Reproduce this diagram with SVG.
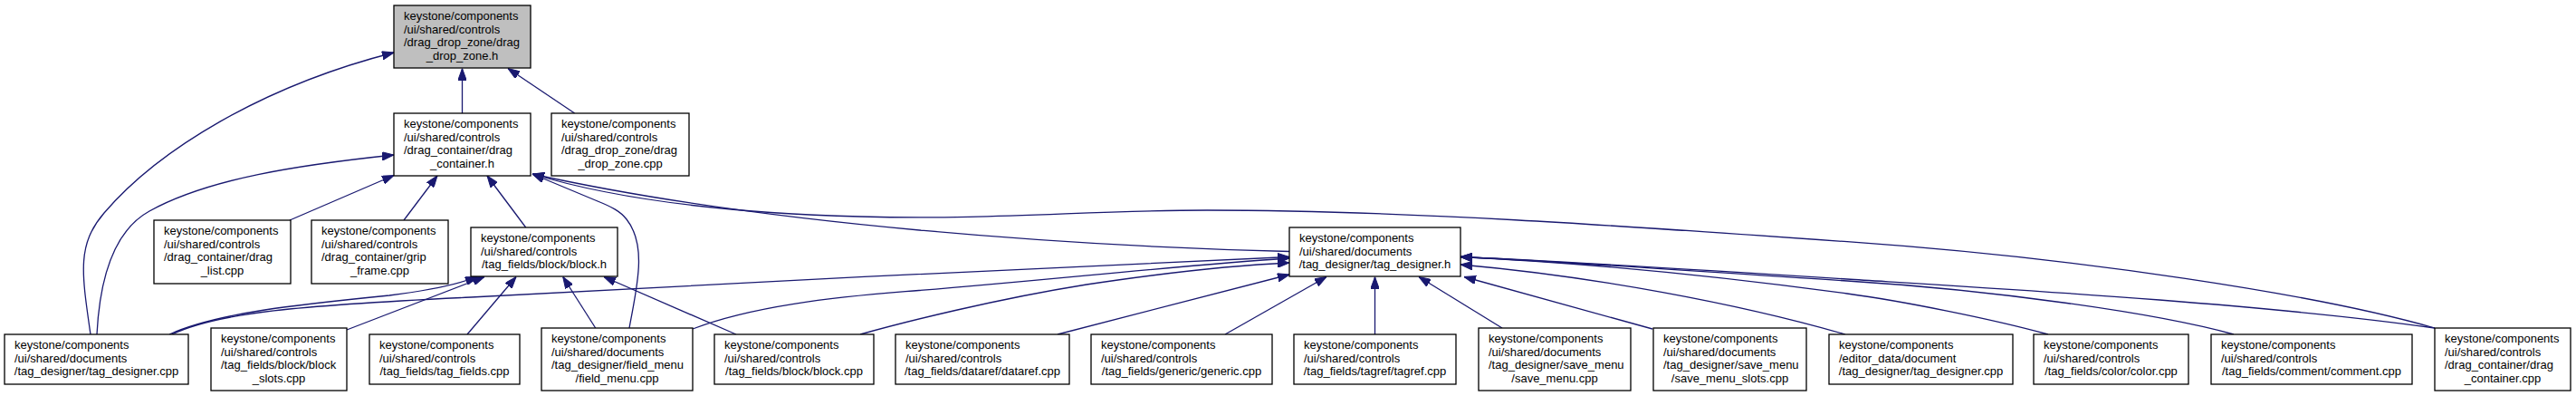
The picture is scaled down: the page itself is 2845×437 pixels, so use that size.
<svg xmlns="http://www.w3.org/2000/svg" width="2845" height="437" viewBox="0 0 2845 437">
<style>
.n rect{fill:#fff;stroke:#000;stroke-width:1.3}
#n1 rect{fill:#bfbfbf}
.n text{font-family:"Liberation Sans",Arial,sans-serif;font-size:13px;fill:#000}
.n text.c{text-anchor:middle}
.e path{fill:none;stroke:#191970;stroke-width:1.3;marker-end:url(#ah)}
</style>
<defs>
<marker id="ah" viewBox="0 0 13 9.4" refX="13" refY="4.7" markerWidth="13" markerHeight="9.4" markerUnits="userSpaceOnUse" orient="auto">
<path d="M0,0 L13,4.7 L0,9.4 Z" fill="#191970" stroke="#191970" stroke-width="1"/>
</marker>
</defs>
<rect width="2845" height="437" fill="#fff"/>
<g id="edges" class="e">
<path d="M510.5,125 L510.5,75.5"/>
<path d="M634.7,125 L561,75.5"/>
<path d="M100,369 C90,300 85,270 115,235 C175,165 290,95 435,58"/>
<path d="M107,369 C110,310 125,255 165,233 C230,197 330,182 435,171"/>
<path d="M320,243 L435,193.5"/>
<path d="M446,243 L483,194"/>
<path d="M580.7,251 L538,194"/>
<path d="M695,362 C702,322 716,272 692,242 C685,233 675,228 660,222 L588,192"/>
<path d="M1424,277.5 C1200,272 850,250 588,192"/>
<path d="M2689,362 C2560,325 2300,285 2040,266.7 C1800,249.8 1550,232 1333,232 C1200,232 1100,243 950,239 C800,235 680,220 588,192"/>
<path d="M187,369 C240,345 330,336 430,326 C470,321 505,314 527,305.5"/>
<path d="M383,364 L535,305.5"/>
<path d="M516,369 L570,305.5"/>
<path d="M657.7,362 L621.7,305.5"/>
<path d="M813,369 L667,305.5"/>
<path d="M190,369 C240,345 330,337 520,328 C800,313 1150,295 1424,283.5"/>
<path d="M765,363 C830,338 920,328 1000,321.7 C1150,310 1300,293 1424,285"/>
<path d="M950,369 C1000,355 1100,330 1200,314 C1300,299 1380,292 1424,290"/>
<path d="M1168,369 L1424,303"/>
<path d="M1353,369 L1465,305.5"/>
<path d="M1518.5,369 L1518.5,305.5"/>
<path d="M1659,362 L1567,305.5"/>
<path d="M1825,363 L1617,305.5"/>
<path d="M2038,369 C1920,335 1760,305 1613,292"/>
<path d="M2262,369 C2200,352 2100,332 2040,324 C1900,305 1750,290 1613,283.5"/>
<path d="M2467,369 C2380,345 2200,320 2040,310 C1880,300 1720,288 1613,283.5"/>
<path d="M2689,362 C2500,335 2200,318 2040,308 C1880,298 1720,288 1613,283.5"/>
</g>
<g id="n1" class="n"><rect x="435" y="6" width="151" height="69"/><text x="446" y="22">keystone/components</text><text x="446" y="36.7">/ui/shared/controls</text><text x="446" y="51.4">/drag_drop_zone/drag</text><text class="c" x="510.5" y="66.1">_drop_zone.h</text></g>
<g id="n2" class="n"><rect x="435" y="125" width="151" height="69"/><text x="446" y="141">keystone/components</text><text x="446" y="155.7">/ui/shared/controls</text><text x="446" y="170.4">/drag_container/drag</text><text class="c" x="510.5" y="185.1">_container.h</text></g>
<g id="n3" class="n"><rect x="609" y="125" width="152" height="69"/><text x="620" y="141">keystone/components</text><text x="620" y="155.7">/ui/shared/controls</text><text x="620" y="170.4">/drag_drop_zone/drag</text><text class="c" x="685" y="185.1">_drop_zone.cpp</text></g>
<g id="n4" class="n"><rect x="170" y="243" width="151" height="70"/><text x="181" y="259">keystone/components</text><text x="181" y="273.7">/ui/shared/controls</text><text x="181" y="288.4">/drag_container/drag</text><text class="c" x="245.5" y="303.1">_list.cpp</text></g>
<g id="n5" class="n"><rect x="344" y="243" width="151" height="70"/><text x="355" y="259">keystone/components</text><text x="355" y="273.7">/ui/shared/controls</text><text x="355" y="288.4">/drag_container/grip</text><text class="c" x="419.5" y="303.1">_frame.cpp</text></g>
<g id="n6" class="n"><rect x="520" y="251" width="162" height="54"/><text x="531" y="267">keystone/components</text><text x="531" y="281.7">/ui/shared/controls</text><text class="c" x="601" y="296.4">/tag_fields/block/block.h</text></g>
<g id="n7" class="n"><rect x="1424" y="251" width="189" height="54"/><text x="1435" y="267">keystone/components</text><text x="1435" y="281.7">/ui/shared/documents</text><text class="c" x="1518.5" y="296.4">/tag_designer/tag_designer.h</text></g>
<g id="n8" class="n"><rect x="5" y="369" width="203" height="55"/><text x="16" y="385">keystone/components</text><text x="16" y="399.7">/ui/shared/documents</text><text class="c" x="106.5" y="414.4">/tag_designer/tag_designer.cpp</text></g>
<g id="n9" class="n"><rect x="233" y="362" width="150" height="69"/><text x="244" y="378">keystone/components</text><text x="244" y="392.7">/ui/shared/controls</text><text x="244" y="407.4">/tag_fields/block/block</text><text class="c" x="308" y="422.1">_slots.cpp</text></g>
<g id="n10" class="n"><rect x="408" y="369" width="166" height="55"/><text x="419" y="385">keystone/components</text><text x="419" y="399.7">/ui/shared/controls</text><text class="c" x="491" y="414.4">/tag_fields/tag_fields.cpp</text></g>
<g id="n11" class="n"><rect x="598" y="362" width="167" height="69"/><text x="609" y="378">keystone/components</text><text x="609" y="392.7">/ui/shared/documents</text><text x="609" y="407.4">/tag_designer/field_menu</text><text class="c" x="681.5" y="422.1">/field_menu.cpp</text></g>
<g id="n12" class="n"><rect x="789" y="369" width="176" height="55"/><text x="800" y="385">keystone/components</text><text x="800" y="399.7">/ui/shared/controls</text><text class="c" x="877" y="414.4">/tag_fields/block/block.cpp</text></g>
<g id="n13" class="n"><rect x="989" y="369" width="192" height="55"/><text x="1000" y="385">keystone/components</text><text x="1000" y="399.7">/ui/shared/controls</text><text class="c" x="1085" y="414.4">/tag_fields/dataref/dataref.cpp</text></g>
<g id="n14" class="n"><rect x="1205" y="369" width="200" height="55"/><text x="1216" y="385">keystone/components</text><text x="1216" y="399.7">/ui/shared/controls</text><text class="c" x="1305" y="414.4">/tag_fields/generic/generic.cpp</text></g>
<g id="n15" class="n"><rect x="1429" y="369" width="179" height="55"/><text x="1440" y="385">keystone/components</text><text x="1440" y="399.7">/ui/shared/controls</text><text class="c" x="1518.5" y="414.4">/tag_fields/tagref/tagref.cpp</text></g>
<g id="n16" class="n"><rect x="1633" y="362" width="168" height="69"/><text x="1644" y="378">keystone/components</text><text x="1644" y="392.7">/ui/shared/documents</text><text x="1644" y="407.4">/tag_designer/save_menu</text><text class="c" x="1717" y="422.1">/save_menu.cpp</text></g>
<g id="n17" class="n"><rect x="1826" y="362" width="169" height="69"/><text x="1837" y="378">keystone/components</text><text x="1837" y="392.7">/ui/shared/documents</text><text x="1837" y="407.4">/tag_designer/save_menu</text><text class="c" x="1910.5" y="422.1">/save_menu_slots.cpp</text></g>
<g id="n18" class="n"><rect x="2020" y="369" width="203" height="55"/><text x="2031" y="385">keystone/components</text><text x="2031" y="399.7">/editor_data/document</text><text class="c" x="2121.5" y="414.4">/tag_designer/tag_designer.cpp</text></g>
<g id="n19" class="n"><rect x="2246" y="369" width="171" height="55"/><text x="2257" y="385">keystone/components</text><text x="2257" y="399.7">/ui/shared/controls</text><text class="c" x="2331.5" y="414.4">/tag_fields/color/color.cpp</text></g>
<g id="n20" class="n"><rect x="2442" y="369" width="222" height="55"/><text x="2453" y="385">keystone/components</text><text x="2453" y="399.7">/ui/shared/controls</text><text class="c" x="2553" y="414.4">/tag_fields/comment/comment.cpp</text></g>
<g id="n21" class="n"><rect x="2689" y="362" width="150" height="69"/><text x="2700" y="378">keystone/components</text><text x="2700" y="392.7">/ui/shared/controls</text><text x="2700" y="407.4">/drag_container/drag</text><text class="c" x="2764" y="422.1">_container.cpp</text></g>
</svg>
